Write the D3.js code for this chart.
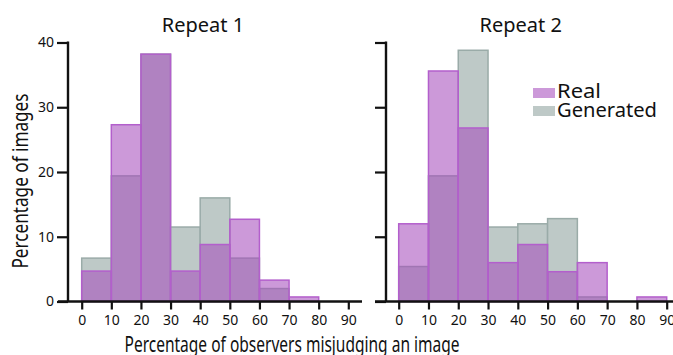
<!DOCTYPE html>
<html>
<head>
<meta charset="utf-8">
<script src="https://cdn.jsdelivr.net/npm/d3@7"></script>
<style>
  html, body { margin: 0; padding: 0; background: #fff; }
  svg { display: block; }
  text { font-family: "Noto Sans", "Open Sans", sans-serif; fill: #111; }
</style>
</head>
<body>
<svg id="chart" width="673" height="355"></svg>
<script>
// Histogram bins (lower edges, width 10)
const binStarts = [0, 10, 20, 30, 40, 50, 60, 70, 80];
const xTicks = [0, 10, 20, 30, 40, 50, 60, 70, 80, 90];
const yTicks = [0, 10, 20, 30, 40];

// Percentage of images per bin
const repeat1Real      = [4.7, 27.3, 38.2, 4.7, 8.8, 12.7, 3.3, 0.7, 0];
const repeat1Generated = [6.7, 19.4, 38.2, 11.5, 16.0, 6.7, 2.0, 0, 0];
const repeat2Real      = [12.0, 35.6, 26.8, 6.0, 8.8, 4.6, 6.0, 0, 0.7];
const repeat2Generated = [5.4, 19.4, 38.8, 11.5, 12.0, 12.8, 0.7, 0, 0];

const panelTitles = ["Repeat 1", "Repeat 2"];
const seriesNames = ["Real", "Generated"];

const svg = d3.select("#chart");

const realFill = "rgb(166,76,188)";
const realFillOpacity = 0.57;
const realStroke = "#b35fcc";
const genFill = "#bec9c7";
const genStroke = "#9aaba8";

const y = d3.scaleLinear().domain([0, 40]).range([301.5, 42.5]);

const panels = [
  { title: panelTitles[0], real: repeat1Real, gen: repeat1Generated,
    xRange: [81.7, 348.3], axisX: 68, xLine: [58, 362], labels: true },
  { title: panelTitles[1], real: repeat2Real, gen: repeat2Generated,
    xRange: [398.7, 666.7], axisX: 386, xLine: [375, 673], labels: false }
];

panels.forEach(p => {
  const x = d3.scaleLinear().domain([0, 90]).range(p.xRange);
  const g = svg.append("g");

  // Generated bars underneath
  g.append("g").selectAll("rect")
    .data(binStarts.map((b, i) => ({ b, v: p.gen[i] })).filter(d => d.v > 0))
    .join("rect")
    .attr("x", d => x(d.b))
    .attr("width", d => x(d.b + 10) - x(d.b))
    .attr("y", d => y(d.v))
    .attr("height", d => y(0) - y(d.v))
    .attr("fill", genFill)
    .attr("stroke", genStroke)
    .attr("stroke-width", 1.5);

  // Real bars, translucent so the overlap reads darker
  g.append("g").selectAll("rect")
    .data(binStarts.map((b, i) => ({ b, v: p.real[i] })).filter(d => d.v > 0))
    .join("rect")
    .attr("x", d => x(d.b))
    .attr("width", d => x(d.b + 10) - x(d.b))
    .attr("y", d => y(d.v))
    .attr("height", d => y(0) - y(d.v))
    .attr("fill", realFill)
    .attr("fill-opacity", realFillOpacity)
    .attr("stroke", realStroke)
    .attr("stroke-width", 1.5);

  // Y axis
  const yAxis = d3.axisLeft(y).tickValues(yTicks).tickSize(11).tickPadding(3)
    .tickFormat(p.labels ? d3.format("d") : () => "");
  const ya = svg.append("g").attr("transform", `translate(${p.axisX},0)`).call(yAxis);
  ya.select(".domain").remove();
  ya.selectAll(".tick line").attr("stroke", "#111").attr("stroke-width", 2.2);
  ya.selectAll(".tick text").style("font-size", "14px").attr("fill", "#111");
  svg.append("line")
    .attr("x1", p.axisX).attr("x2", p.axisX)
    .attr("y1", y(40) - 1).attr("y2", y(0))
    .attr("stroke", "#111").attr("stroke-width", 2.4);

  // X axis
  const xAxis = d3.axisBottom(x).tickValues(xTicks).tickSize(8).tickPadding(6)
    .tickFormat(d3.format("d"));
  const xa = svg.append("g").attr("transform", `translate(0,${y(0)})`).call(xAxis);
  xa.select(".domain").remove();
  xa.selectAll(".tick line").attr("stroke", "#111").attr("stroke-width", 2.2);
  xa.selectAll(".tick text").style("font-size", "14px").attr("fill", "#111");
  svg.append("line")
    .attr("x1", p.xLine[0]).attr("x2", p.xLine[1])
    .attr("y1", y(0)).attr("y2", y(0))
    .attr("stroke", "#111").attr("stroke-width", 2.4);

  // Panel title
  svg.append("text")
    .attr("x", (p.xRange[0] + p.xRange[1]) / 2 - 12)
    .attr("y", 32)
    .attr("text-anchor", "middle")
    .style("font-size", "20px")
    .text(p.title);
});

// Legend
const legend = svg.append("g").attr("transform", "translate(533,88)");
[{ name: seriesNames[0], fill: "#cc99d9", len: 44 },
 { name: seriesNames[1], fill: genFill, len: 100 }]
  .forEach((d, i) => {
    legend.append("rect")
      .attr("x", 0).attr("y", i * 18)
      .attr("width", 22).attr("height", 10)
      .attr("fill", d.fill);
    legend.append("text")
      .attr("x", 24).attr("y", i * 19 + 10)
      .attr("textLength", d.len).attr("lengthAdjust", "spacingAndGlyphs")
      .style("font-size", "19px")
      .text(d.name);
  });

// Axis titles
svg.append("text")
  .attr("x", 292).attr("y", 352)
  .attr("text-anchor", "middle")
  .attr("textLength", 335).attr("lengthAdjust", "spacingAndGlyphs")
  .style("font-size", "22px")
  .text("Percentage of observers misjudging an image");

svg.append("text")
  .attr("transform", "translate(28,181) rotate(-90)")
  .attr("text-anchor", "middle")
  .attr("textLength", 175).attr("lengthAdjust", "spacingAndGlyphs")
  .style("font-size", "21px")
  .text("Percentage of images");
</script>
</body>
</html>
